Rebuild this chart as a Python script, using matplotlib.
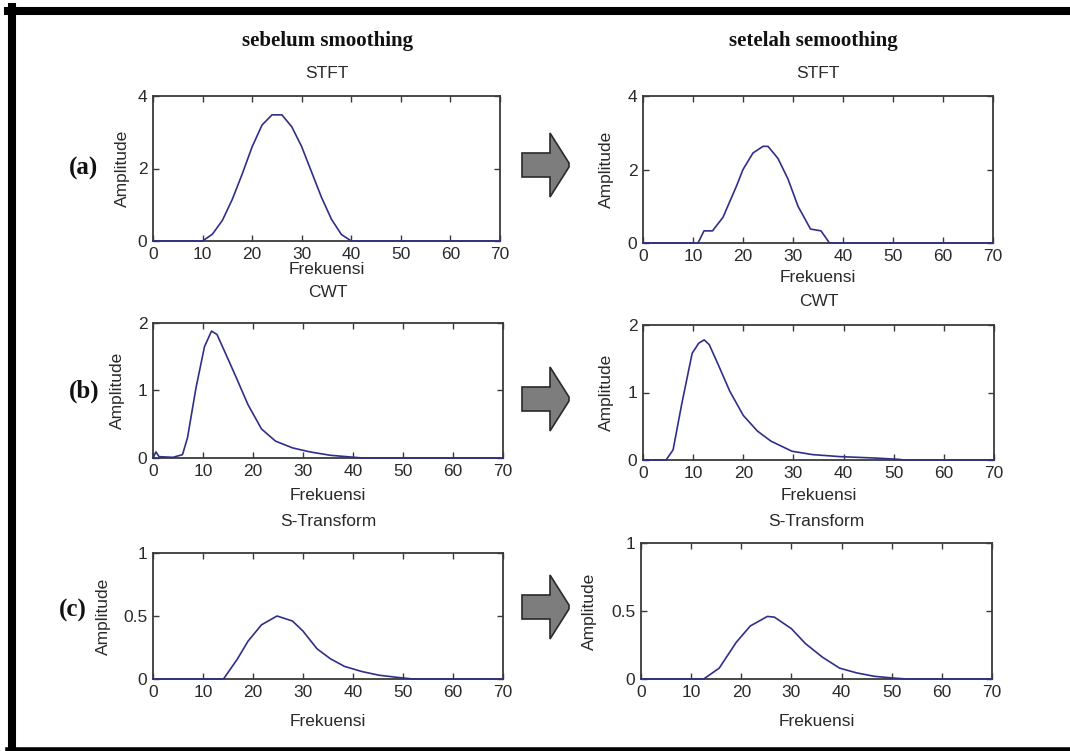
import matplotlib
matplotlib.use("Agg")
import matplotlib.pyplot as plt
from matplotlib.patches import Polygon
from matplotlib.lines import Line2D

W, H = 1070, 751

# --- data (frequency, amplitude) ---
stft_before_f = [0, 10, 12, 14, 16, 18, 20, 22, 24, 26, 28, 30, 32, 34, 36, 38, 40, 70]
stft_before_a = [0, 0, 0.19, 0.57, 1.15, 1.85, 2.6, 3.2, 3.48, 3.48, 3.15, 2.6, 1.9, 1.2, 0.6, 0.18, 0, 0]

stft_after_f = [0, 11, 12.2, 13.9, 16, 18.7, 20, 22, 24, 25, 27, 29, 31, 33.5, 35.6, 37.3, 70]
stft_after_a = [0, 0, 0.33, 0.33, 0.7, 1.55, 2.0, 2.45, 2.63, 2.63, 2.3, 1.74, 1.0, 0.38, 0.33, 0, 0]

cwt_before_f = [0, 0.6, 1.2, 4, 5.9, 6.9, 8.6, 10.3, 11.7, 12.8, 14.5, 16.6, 19, 21.7, 24.5, 27.9, 31.4, 35.5, 40.3, 42, 70]
cwt_before_a = [0, 0.09, 0.02, 0.01, 0.05, 0.3, 1.04, 1.65, 1.88, 1.83, 1.55, 1.2, 0.79, 0.43, 0.25, 0.15, 0.09, 0.04, 0.01, 0, 0]

cwt_after_f = [0, 4.6, 6, 7.7, 9.8, 11.1, 12.2, 13.2, 14.9, 17.3, 20, 22.8, 25.5, 29.7, 33.8, 39.3, 46, 51, 52, 70]
cwt_after_a = [0, 0, 0.15, 0.82, 1.58, 1.73, 1.78, 1.71, 1.43, 1.02, 0.66, 0.43, 0.28, 0.13, 0.08, 0.05, 0.03, 0.01, 0, 0]

st_before_f = [0, 14.1, 16.9, 19, 21.7, 24.8, 27.9, 30, 32.8, 35.5, 38.3, 41.7, 45.2, 48.6, 52, 70]
st_before_a = [0, 0, 0.16, 0.3, 0.43, 0.5, 0.46, 0.38, 0.24, 0.16, 0.1, 0.06, 0.03, 0.014, 0, 0]

st_after_f = [0, 12.5, 15.6, 19, 21.8, 25.2, 26.6, 30, 32.8, 36.2, 39.6, 43, 46.5, 50, 53, 70]
st_after_a = [0, 0, 0.08, 0.27, 0.39, 0.46, 0.455, 0.37, 0.26, 0.16, 0.08, 0.045, 0.02, 0.008, 0, 0]

titles = ["STFT", "STFT", "CWT", "CWT", "S-Transform", "S-Transform"]
yticks = [[0, 2, 4], [0, 2, 4], [0, 1, 2], [0, 1, 2], [0, 0.5, 1], [0, 0.5, 1]]
ytick_labels = [["0", "2", "4"], ["0", "2", "4"], ["0", "1", "2"], ["0", "1", "2"],
                ["0", "0.5", "1"], ["0", "0.5", "1"]]
xticks = [0, 10, 20, 30, 40, 50, 60, 70]
series = [(stft_before_f, stft_before_a), (stft_after_f, stft_after_a),
          (cwt_before_f, cwt_before_a), (cwt_after_f, cwt_after_a),
          (st_before_f, st_before_a), (st_after_f, st_after_a)]
row_tags = ["(a)", "(b)", "(c)"]
col_heads = ["sebelum smoothing", "setelah semoothing"]

# layout in pixels: left, top, right, bottom / title y / xlabel y / ylabel x
boxes = [(153, 96, 500, 241), (643, 96, 993, 243),
         (153, 323, 503, 458), (643, 325, 994, 460),
         (153, 553, 503, 679), (641, 543, 992, 679)]
title_y = [73, 74, 293, 301, 521, 521]
xlab_y = [269, 277, 496, 496, 721, 721]
ylab_x = [122, 606, 117, 606, 103, 589]

plt.rcParams['font.family'] = ['Liberation Sans', 'DejaVu Sans']
fs = 12.5

line_col = '#2f2f8a'
frame_col = '#3a3a3a'
text_col = '#2a2a2a'

fig = plt.figure(figsize=(W / 100, H / 100), dpi=100)
fig.patch.set_facecolor('white')

for i, (f, a) in enumerate(series):
    l, t, r, b = boxes[i]
    ax = fig.add_axes([l / W, 1 - b / H, (r - l) / W, (b - t) / H])
    ax.plot(f, a, color=line_col, lw=1.2, clip_on=False, zorder=3)
    ax.set_xlim(0, 70)
    ax.set_ylim(yticks[i][0], yticks[i][-1])
    ax.set_xticks(xticks)
    ax.set_yticks(yticks[i])
    ax.set_yticklabels(ytick_labels[i])
    ax.tick_params(direction='in', top=True, right=True, length=4, width=1,
                   color=frame_col, labelcolor=text_col, labelsize=fs, pad=4)
    for sp in ax.spines.values():
        sp.set_color(frame_col)
        sp.set_linewidth(1.3)
    hpx = b - t
    wpx = r - l
    ax.set_title(titles[i], y=(b - title_y[i]) / hpx, va='center', pad=0,
                 fontsize=fs, color=text_col)
    ax.set_xlabel("Frekuensi", fontsize=fs, color=text_col)
    ax.xaxis.set_label_coords(0.5, (b - xlab_y[i]) / hpx)
    ax.xaxis.label.set_va('center')
    ax.set_ylabel("Amplitude", fontsize=fs, color=text_col)
    ax.yaxis.set_label_coords((ylab_x[i] - l) / wpx, 0.5)
    ax.yaxis.label.set_va('center')

# column headings and row tags
fig.text(328 / W, 1 - 41 / H, col_heads[0], ha='center', va='center',
         family='Liberation Serif', weight='bold', fontsize=15, color='#111111')
fig.text(813 / W, 1 - 41 / H, col_heads[1], ha='center', va='center',
         family='Liberation Serif', weight='bold', fontsize=15, color='#111111')
for tag, ty, tx in zip(row_tags, [168, 391, 610], [84, 84, 73]):
    fig.text(tx / W, 1 - ty / H, tag, ha='center', va='center',
             family='Liberation Serif', weight='bold', fontsize=18, color='#111111')

# grey block arrows between the columns
for cy in [165, 399, 607]:
    pts = [(522, cy - 12), (550, cy - 12), (550, cy - 32), (569, cy - 2),
           (569, cy + 2), (550, cy + 32), (550, cy + 12), (522, cy + 12)]
    pts = [(x / W, 1 - y / H) for x, y in pts]
    fig.add_artist(Polygon(pts, closed=True, transform=fig.transFigure,
                           facecolor='#7d7d7d', edgecolor='#2a2a2a', lw=1.2))

# thick black frame (left, top, bottom)
fig.add_artist(Line2D([12 / W, 12 / W], [1 - 7 / H, 1 - 751 / H],
                      transform=fig.transFigure, color='black', lw=5.8))
fig.add_artist(Line2D([8 / W, 1.0], [1 - 11 / H, 1 - 11 / H],
                      transform=fig.transFigure, color='black', lw=5.8))
fig.add_artist(Line2D([8 / W, 1.0], [1 - 750 / H, 1 - 750 / H],
                      transform=fig.transFigure, color='black', lw=4))

fig.savefig("out.png", dpi=100)
